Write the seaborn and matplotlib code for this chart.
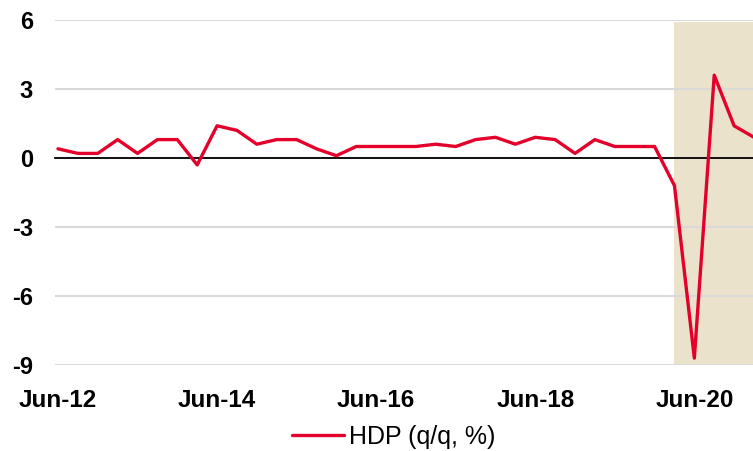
import numpy as np
import pandas as pd
import matplotlib
matplotlib.use("Agg")
import matplotlib.pyplot as plt
import seaborn as sns

# ---- data ----
quarters = [
    "Jun-12", "Sep-12", "Dec-12", "Mar-13", "Jun-13", "Sep-13", "Dec-13", "Mar-14",
    "Jun-14", "Sep-14", "Dec-14", "Mar-15", "Jun-15", "Sep-15", "Dec-15", "Mar-16",
    "Jun-16", "Sep-16", "Dec-16", "Mar-17", "Jun-17", "Sep-17", "Dec-17", "Mar-18",
    "Jun-18", "Sep-18", "Dec-18", "Mar-19", "Jun-19", "Sep-19", "Dec-19", "Mar-20",
    "Jun-20", "Sep-20", "Dec-20", "Mar-21",
]
hdp = [
    0.4, 0.2, 0.2, 0.8, 0.2, 0.8, 0.8, -0.3,
    1.4, 1.2, 0.6, 0.8, 0.8, 0.4, 0.1, 0.5,
    0.5, 0.5, 0.5, 0.6, 0.5, 0.8, 0.9, 0.6,
    0.9, 0.8, 0.2, 0.8, 0.5, 0.5, 0.5, -1.2,
    -8.7, 3.6, 1.4, 0.9,
]
tick_labels = ["Jun-12", "Jun-14", "Jun-16", "Jun-18", "Jun-20"]
shade_start = "Mar-20"
yticks = [-9, -6, -3, 0, 3, 6]
series_name = "HDP (q/q, %)"

df = pd.DataFrame({"idx": np.arange(len(quarters)), "q": quarters, "v": hdp})

# ---- style ----
sns.set_style("white")
plt.rcParams["font.family"] = ["Liberation Sans", "DejaVu Sans"]
plt.rcParams["text.color"] = "black"
plt.rcParams["xtick.color"] = "black"
plt.rcParams["ytick.color"] = "black"
plt.rcParams["axes.labelcolor"] = "black"

fig = plt.figure(figsize=(7.53, 4.51), dpi=100)
ax = fig.add_axes([55 / 753, 86 / 451, 698 / 753, 345 / 451])

red = "#E3002B"
sns.lineplot(data=df, x="idx", y="v", ax=ax, color=red, linewidth=2.4,
             label=series_name, legend=False, zorder=4)

# shaded period
s = quarters.index(shade_start)
ax.axvspan(s, len(quarters) + 1, ymax=0.995, color="#EAE2CB", zorder=0, lw=0)

ax.set_xlim(-0.15, len(quarters) - 1 - 0.05)
ax.set_ylim(min(yticks), max(yticks))

# gridlines
ax.set_yticks(yticks)
ax.set_yticklabels([str(t) for t in yticks], fontsize=17, fontweight="bold",
                   color="black")
ax.yaxis.grid(True, color="#D9D9D9", linewidth=1.5, zorder=1)
ax.set_axisbelow(True)
ax.tick_params(axis="y", length=0, pad=16)

for sp in ["top", "right", "left"]:
    ax.spines[sp].set_visible(False)
ax.spines["bottom"].set_position(("data", 0))
ax.spines["bottom"].set_color("black")
ax.spines["bottom"].set_linewidth(1.3)
ax.spines["bottom"].set_zorder(3)

tpos = [quarters.index(t) for t in tick_labels]
ax.set_xticks(tpos)
ax.tick_params(axis="x", direction="out", length=7, width=1.3, color="black",
               labelbottom=False)
ax.set_xlabel("")
ax.set_ylabel("")

sec = ax.secondary_xaxis("bottom")
sec.set_xticks(tpos)
sec.set_xticklabels(tick_labels, fontsize=17.5, fontweight="bold", color="black")
sec.tick_params(length=0, pad=17)
sec.spines["bottom"].set_visible(False)

handles, labels = ax.get_legend_handles_labels()
leg = fig.legend(handles, labels, loc="center", bbox_to_anchor=(0.523, 0.031),
                 frameon=False, fontsize=18, handlelength=2.1, handletextpad=0.2)
for t in leg.get_texts():
    t.set_color("black")

fig.savefig("out.png", dpi=100)
